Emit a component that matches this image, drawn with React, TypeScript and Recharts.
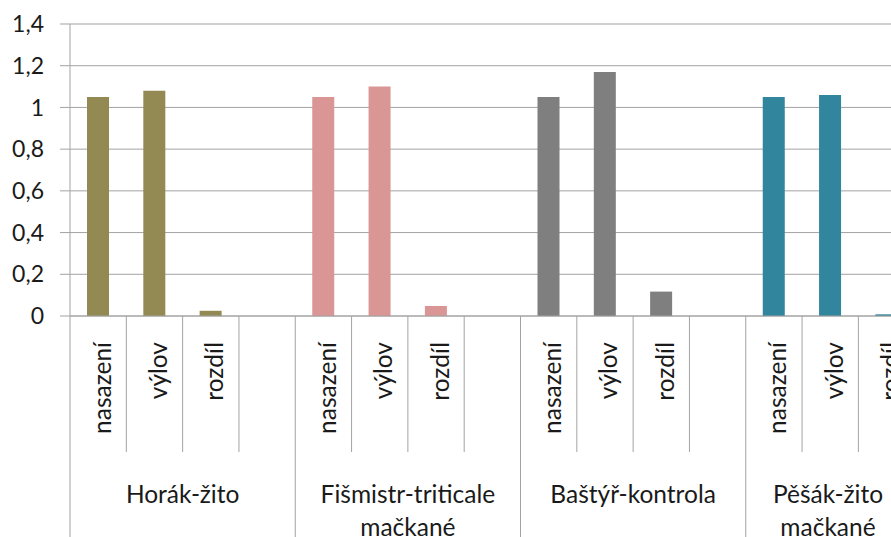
import { BarChart, Bar, XAxis, YAxis, CartesianGrid, Cell } from 'recharts';

const groups = [
  ['Horák-žito'],
  ['Fišmistr-triticale', 'mačkané'],
  ['Baštýř-kontrola'],
  ['Pěšák-žito', 'mačkané'],
];
const subLabels = ['nasazení', 'výlov', 'rozdíl', ''];
const nasazeni = [1.05, 1.05, 1.05, 1.05];
const vylov = [1.08, 1.1, 1.17, 1.06];
const rozdil = [0.025, 0.048, 0.117, 0.008];
const yTicks = [0, 0.2, 0.4, 0.6, 0.8, 1, 1.2, 1.4];
const groupColors = ['#938953', '#D99694', '#7F7F7F', '#31859C'];

const data = groups.flatMap((g, gi) =>
  subLabels.map((sub, si) => ({
    key: `${gi}-${si}`,
    group: gi,
    sub,
    value: si === 0 ? nasazeni[gi] : si === 1 ? vylov[gi] : si === 2 ? rozdil[gi] : null,
  }))
);

const VIEW_W = 891;
const CHART_W = 980;
const CHART_H = 537;
const Y_AXIS_W = 70;
const RIGHT = 9;
const SLOT = (CHART_W - Y_AXIS_W - RIGHT) / data.length;
const FONT = 'Lato, "Open Sans", sans-serif';
const TEXT = '#1a1a1a';
const LINE = '#a3a3a3';

const formatY = (v: number) => String(Number(v.toFixed(1))).replace('.', ',');

function CategoryTick(props: any) {
  const { x, y, index } = props;
  const row = data[index];
  if (!row) return null;
  const left = x - SLOT / 2;
  const isGroupStart = index % 4 === 0;
  const lines = groups[row.group];
  // keep the group label inside the visible area (like the original)
  const labelX = Math.min(left + SLOT * 2, VIEW_W - 63);
  return (
    <g>
      <line x1={left} x2={left} y1={y} y2={isGroupStart ? CHART_H : y + 136} stroke={LINE} />
      {row.sub && (
        <text
          transform={`translate(${x + 3},${y + 26}) rotate(-90)`}
          textAnchor="end"
          dominantBaseline="central"
          fontFamily={FONT}
          fontSize={24.5}
          fill={TEXT}
        >
          {row.sub}
        </text>
      )}
      {isGroupStart &&
        lines.map((t, li) => (
          <text
            key={li}
            x={labelX}
            y={y + 177 + li * 33}
            textAnchor="middle"
            dominantBaseline="central"
            fontFamily={FONT}
            fontSize={24.5}
            fill={TEXT}
          >
            {t}
          </text>
        ))}
    </g>
  );
}

export default function App() {
  return (
    <div
      style={{
        position: 'absolute',
        left: 0,
        top: 0,
        width: VIEW_W,
        height: CHART_H,
        overflow: 'hidden',
        background: '#fff',
      }}
    >
      <BarChart
        width={CHART_W}
        height={CHART_H}
        data={data}
        margin={{ top: 24, right: RIGHT, left: 0, bottom: 0 }}
      >
        <CartesianGrid vertical={false} stroke={LINE} strokeDasharray="" />
        <XAxis
          dataKey="key"
          interval={0}
          height={221}
          tickLine={false}
          tickSize={0}
          tickMargin={0}
          axisLine={{ stroke: LINE }}
          tick={<CategoryTick />}
        />
        <YAxis
          width={Y_AXIS_W}
          domain={[0, 1.4]}
          ticks={yTicks}
          tickFormatter={formatY}
          tickSize={10}
          tickMargin={16}
          tickLine={{ stroke: LINE }}
          axisLine={{ stroke: LINE }}
          tick={{ fontFamily: FONT, fontSize: 23, fill: TEXT }}
        />
        <Bar dataKey="value" barSize={22} isAnimationActive={false}>
          {data.map((d) => (
            <Cell key={d.key} fill={groupColors[d.group]} />
          ))}
        </Bar>
      </BarChart>
    </div>
  );
}
